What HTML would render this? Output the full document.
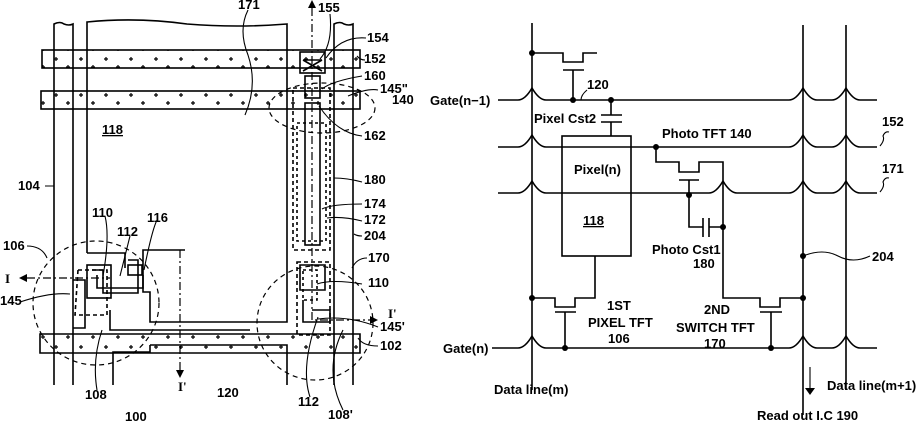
<!DOCTYPE html>
<html><head><meta charset="utf-8"><style>
html,body{margin:0;padding:0;background:#fff;}
svg{display:block;}
text{font-family:"Liberation Sans",sans-serif;font-size:13px;fill:#000;font-weight:bold;}
</style></head><body>
<svg width="923" height="423" viewBox="0 0 923 423" xmlns="http://www.w3.org/2000/svg">
<defs>
<pattern id="pl" x="0" y="0" width="25" height="18" patternUnits="userSpaceOnUse">
<path d="M4 5h4M6 3v4M16 13h4M18 11v4" stroke="#000" stroke-width="1.2"/>
</pattern>
</defs>
<g fill="none" stroke="#000" stroke-width="1.6">
<rect x="42" y="50" width="318" height="18" fill="url(#pl)"/>
<rect x="41" y="91" width="319" height="18" fill="url(#pl)"/>
<path d="M40 334 H360 V353 H40 Z" fill="url(#pl)"/>
<path d="M54 385 V24 q6 -3 10 0 q5 2 9 0 V385"/>
<path d="M334 385 V24 q6 -3 10 0 q5 2 9 0 V385"/>
<path d="M87 253 V22 q50 -5 100 2 q50 4 100 0 V322 H150 V292 H143 V250 H185 M87 253 H125 V268"/>
<path d="M150 345 H287 V385 M150 345 V352 H113 V385"/>
<path d="M73 280 H85 V328 H73"/>
<rect x="87" y="265" width="24" height="33"/>
<path d="M92 270 H103 V293 H138 V260 H128 M97 275 V288 H143 V275"/>
<rect x="128" y="265" width="14" height="10"/>
<path d="M110 310 V330 H250" />
<path d="M78 270 H107 V315 H75 Z" stroke-dasharray="4 3"/>
<rect x="293" y="88" width="37" height="162" stroke-dasharray="4 3"/>
<rect x="305" y="103" width="15" height="142"/>
<rect x="297" y="123" width="29" height="118" stroke-dasharray="3 3"/>
<rect x="300" y="52" width="25" height="21"/>
<path d="M303 60 L322 71 M322 60 L303 71 M303 60 H322"/>
<rect x="305" y="76" width="15" height="22"/>
<path d="M300 265 H325 V290 H300 Z"/>
<rect x="303" y="270" width="14" height="30" stroke-dasharray="3 3"/>
<path d="M303 300 V322 H330 V310 H312"/>
<path d="M297 262 H330 V335 H297 Z" stroke-dasharray="4 3"/>
<ellipse cx="322" cy="108" rx="53" ry="25" stroke-dasharray="5 4" stroke-width="1.2"/>
<ellipse cx="96" cy="303" rx="63" ry="62" stroke-dasharray="5 4" stroke-width="1.2"/>
<ellipse cx="315" cy="323" rx="58" ry="57" stroke-dasharray="5 4" stroke-width="1.2"/>
<path d="M312 8 V320 H370 M27 278 H110 M180 250 V370" stroke-dasharray="8 3 2 3" stroke-width="1.2"/>
<path d="M248 10 q-10 20 0 45 q10 30 -3 60" stroke-width="1.1"/>
<path d="M330 14 q3 30 -10 45 M366 38 q-25 -2 -40 20 M365 60 q-5 0 -8 -4 M362 76 q-30 5 -40 13 M378 90 q-10 -2 -30 6 M362 136 q-25 -3 -43 -30 M362 182 q-15 -4 -28 -4 M362 204 q-30 0 -40 5 M362 221 q-20 -5 -35 -3 M362 236 q-5 0 -8 -2 M362 284 q-30 -5 -45 0 M378 327 q-30 -12 -60 -8 M378 346 q-15 0 -20 -8 M45 186 h9 M27 246 q15 0 20 12 M20 302 q30 -10 50 -8 M105 216 q5 20 -2 60 M130 236 q-5 20 -10 40 M157 220 q-5 10 -13 50 M97 390 q-5 -30 5 -60 M310 397 q-10 -30 8 -80 M343 410 q-20 -40 0 -80 M367 258 q-10 0 -15 10" stroke-width="1.1"/>
<path d="M532 23 V390 M803 25 V415 M846 25 V390"/>
<path d="M498 100 H518 Q525 100 532 88 Q539 100 546 100 H789 Q796 100 803 88 Q810 100 817 100 H832 Q839 100 846 88 Q853 100 860 100 H877"/>
<path d="M498 147 H518 Q525 147 532 135 Q539 147 546 147 H789 Q796 147 803 135 Q810 147 817 147 H832 Q839 147 846 135 Q853 147 860 147 H877"/>
<path d="M498 193 H518 Q525 193 532 181 Q539 193 546 193 H709 Q716 193 723 181 Q730 193 737 193 H789 Q796 193 803 181 Q810 193 817 193 H832 Q839 193 846 181 Q853 193 860 193 H877"/>
<path d="M492 348 H518 Q525 348 532 336 Q539 348 546 348 H789 Q796 348 803 336 Q810 348 817 348 H832 Q839 348 846 336 Q853 348 860 348 H877"/>
<path d="M532 53 H563 V62 H583 V53 H597 M563 70 H584 M573 70 V100"/>
<path d="M611 100 V115 M601 115 H622 M601 122 H622 M611 122 V136"/>
<rect x="562" y="136" width="69" height="120"/>
<path d="M656 147 V162 H679 V172 H699 V162 H723 V298 H760 V307 H780 V298 H803 M679 180 H699 M689 180 V227 H703 M703 218 V237 M709 218 V237 M709 227 H723"/>
<path d="M760 312 H782 M771 312 V348"/>
<path d="M532 298 H555 V307 H575 V298 H595 V256 M555 312 H576 M565 312 V348"/>
<path d="M803 256 q20 -8 35 0 q15 8 32 0 M810 367 V390 M880 146 q5 -6 3 -10 q2 -5 6 -4 M880 192 q5 -6 3 -10 q2 -5 6 -4 M587 90 q-6 5 -6 10" stroke-width="1.1"/>
</g>
<path d="M805 388 L810 395 L815 388 Z" fill="#000"/>
<g fill="#000">
<circle cx="532" cy="53" r="3"/><circle cx="573" cy="100" r="3"/><circle cx="611" cy="100" r="3"/>
<circle cx="656" cy="147" r="3"/><circle cx="689" cy="195" r="3"/><circle cx="723" cy="227" r="3"/>
<circle cx="803" cy="256" r="3"/><circle cx="803" cy="298" r="3"/><circle cx="532" cy="298" r="3"/>
<circle cx="565" cy="348" r="3"/><circle cx="771" cy="348" r="3"/>
<path d="M308 8 L312 0 L316 8 Z M27 274 L19 278 L27 282 Z M176 370 L180 378 L184 370 Z M370 316 L378 320 L370 324 Z"/>
</g>
<text x="238" y="9">171</text>
<text x="318" y="12">155</text>
<text x="367" y="42">154</text>
<text x="364" y="63">152</text>
<text x="364" y="80">160</text>
<text x="380" y="93">145"</text>
<text x="392" y="104">140</text>
<text x="364" y="140">162</text>
<text x="102" y="134" text-decoration="underline">118</text>
<text x="18" y="190">104</text>
<text x="364" y="184">180</text>
<text x="364" y="208">174</text>
<text x="364" y="224">172</text>
<text x="364" y="240">204</text>
<text x="92" y="217">110</text>
<text x="147" y="222">116</text>
<text x="117" y="236">112</text>
<text x="3" y="250">106</text>
<text x="368" y="262">170</text>
<text x="5" y="283" style="font-family:'Liberation Serif',serif">I</text>
<text x="0" y="305">145</text>
<text x="368" y="287">110</text>
<text x="388" y="318" style="font-family:'Liberation Serif',serif">I'</text>
<text x="380" y="331">145'</text>
<text x="380" y="350">102</text>
<text x="85" y="399">108</text>
<text x="178" y="391" style="font-family:'Liberation Serif',serif">I'</text>
<text x="217" y="397">120</text>
<text x="125" y="421">100</text>
<text x="298" y="406">112</text>
<text x="328" y="419">108'</text>
<text x="430" y="105">Gate(n−1)</text>
<text x="587" y="89">120</text>
<text x="534" y="123">Pixel Cst2</text>
<text x="662" y="138">Photo TFT 140</text>
<text x="882" y="126">152</text>
<text x="882" y="173">171</text>
<text x="574" y="174">Pixel(n)</text>
<text x="583" y="225" text-decoration="underline">118</text>
<text x="652" y="254">Photo Cst1</text>
<text x="693" y="268">180</text>
<text x="872" y="261">204</text>
<text x="607" y="310">1ST</text>
<text x="588" y="327">PIXEL TFT</text>
<text x="608" y="343">106</text>
<text x="704" y="314">2ND</text>
<text x="676" y="332">SWITCH TFT</text>
<text x="704" y="348">170</text>
<text x="443" y="353">Gate(n)</text>
<text x="494" y="394">Data line(m)</text>
<text x="827" y="390">Data line(m+1)</text>
<text x="757" y="420">Read out I.C 190</text>
</svg>
</body></html>
